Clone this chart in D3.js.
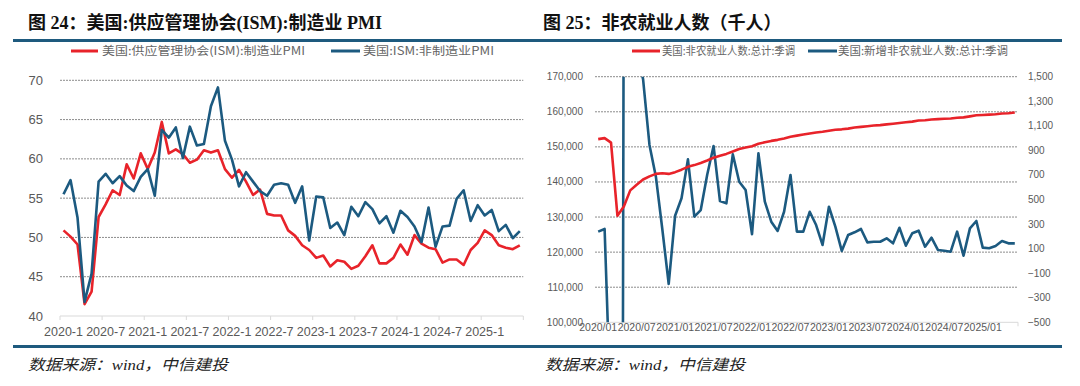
<!DOCTYPE html>
<html>
<head>
<meta charset="utf-8">
<script src="https://cdn.jsdelivr.net/npm/d3@7"></script>
<style>
    body { margin: 0; background: #fff; }
    svg { display: block; }
</style>
</head>
<body>
<div id="chart"></div>
<script>
//set svg dimensions
var svgW = 1080;
var svgH = 386;

//months 2020-01 .. 2025-06
var years = [2020, 2021, 2022, 2023, 2024, 2025];
var months = [];
years.forEach(function(y) {
    for (var m = 1; m <= 12; m++) {
        if (y === 2025 && m > 6) break;
        months.push({ y: y, m: m });
    }
});

//left chart: ISM manufacturing pmi
var ismManu = [
    50.9, 50.1, 49.1, 41.5, 43.1, 52.6, 54.2, 56.0, 55.4, 59.3, 57.5, 60.7,
    58.7, 60.8, 64.7, 60.7, 61.2, 60.6, 59.5, 59.9, 61.1, 60.8, 61.1, 58.7,
    57.6, 58.6, 57.1, 55.4, 56.1, 53.0, 52.8, 52.8, 50.9, 50.2, 49.0, 48.4,
    47.4, 47.7, 46.3, 47.1, 46.9, 46.0, 46.4, 47.6, 49.0, 46.7, 46.7, 47.4,
    49.1, 47.8, 50.3, 49.2, 48.7, 48.5, 46.8, 47.2, 47.2, 46.5, 48.4, 49.3,
    50.9, 50.3, 49.0, 48.7, 48.5, 49.0
];

//left chart: ISM non-manufacturing pmi
var ismNonManu = [
    55.5, 57.3, 52.5, 41.8, 45.4, 57.1, 58.1, 56.9, 57.8, 56.6, 55.9, 57.7,
    58.7, 55.3, 63.7, 62.7, 64.0, 60.1, 64.1, 61.7, 61.9, 66.7, 69.1, 62.3,
    59.9, 56.5, 58.3, 57.1, 55.9, 55.3, 56.7, 56.9, 56.7, 54.4, 56.5, 49.6,
    55.2, 55.1, 51.2, 51.9, 50.3, 53.9, 52.7, 54.5, 53.6, 51.8, 52.7, 50.6,
    53.4, 52.6, 51.4, 49.4, 53.8, 48.8, 51.4, 51.5, 54.9, 56.0, 52.1, 54.1,
    52.8, 53.5, 50.8, 51.6, 49.9, 50.8
];

//right chart: total nonfarm payrolls (thousands, left axis)
var nfpTotal = [
    152200, 152500, 151200, 130400, 133000, 137600, 139200, 140700, 141600, 142300, 142500, 142300,
    142800, 143500, 144300, 144800, 145400, 146100, 146900, 147500, 148000, 148700, 149400, 149800,
    150200, 150900, 151300, 151700, 152000, 152400, 152900, 153200, 153500, 153800, 154100, 154300,
    154600, 154900, 155000, 155200, 155500, 155700, 155900, 156100, 156200, 156400, 156600, 156800,
    157000, 157200, 157500, 157600, 157800, 157900, 158000, 158100, 158300, 158400, 158700, 159000,
    159100, 159200, 159300, 159500, 159600, 159800
];

//right chart: monthly change in nonfarm payrolls (thousands, right axis)
var nfpChange = [
    238, 260, -1300, -20500, 2700, 4500, 1700, 1480, 944, 686, 260, -188,
    368, 510, 827, 360, 414, 700, 936, 487, 469, 868, 645, 577,
    217, 876, 482, 319, 244, 400, 700, 238, 238, 400, 292, 130,
    441, 279, 81, 211, 233, 260, 151, 156, 156, 184, 143, 270,
    124, 225, 246, 116, 189, 89, 83, 75, 238, 42, 265, 325,
    108, 103, 122, 162, 143, 143
];

//tick values
var leftTicks = [40, 45, 50, 55, 60, 65, 70];
var nfpTicksL = [100000, 110000, 120000, 130000, 140000, 150000, 160000, 170000];
var nfpTicksR = [-500, -300, -100, 100, 300, 500, 700, 900, 1100, 1300, 1500];

//text
var title1 = "图 24：美国:供应管理协会(ISM):制造业 PMI";
var title2 = "图 25：非农就业人数（千人）";
var legend1 = ["美国:供应管理协会(ISM):制造业PMI", "美国:ISM:非制造业PMI"];
var legend2 = ["美国:非农就业人数:总计:季调", "美国:新增非农就业人数:总计:季调"];
var source = "数据来源：wind，中信建投";

var red = "#e8232a";
var blue = "#1c5a80";
var ruleColor = "#1e5a7e";
var labelColor = "#595959";
var sans = "Arial, 'Liberation Sans', sans-serif";
var cjk = "'Noto Sans CJK SC', sans-serif";

var svg = d3.select("#chart").append("svg")
    .attr("width", svgW)
    .attr("height", svgH);

var defs = svg.append("defs");

//top and bottom rules
svg.append("rect").attr("x", 13).attr("y", 39).attr("width", 1049).attr("height", 3).attr("fill", ruleColor);
svg.append("rect").attr("x", 13).attr("y", 345).attr("width", 1049).attr("height", 3).attr("fill", ruleColor);

//titles
[[title1, 28], [title2, 543]].forEach(function(t) {
    svg.append("text")
        .attr("x", t[1])
        .attr("y", 29)
        .attr("font-family", "'Liberation Serif', 'Noto Sans CJK SC', serif")
        .attr("font-weight", "bold")
        .attr("font-size", "18px")
        .attr("fill", "#111")
        .text(t[0]);
});

//sources
[28, 545].forEach(function(x) {
    svg.append("text")
        .attr("x", x)
        .attr("y", 370)
        .attr("font-family", "'Liberation Serif', 'Noto Sans CJK SC', serif")
        .attr("font-style", "italic")
        .attr("font-size", "15px")
        .attr("fill", "#222")
        .attr("textLength", 200)
        .attr("lengthAdjust", "spacingAndGlyphs")
        .text(source);
});

//legend helper
function legendItem(x1, x2, tx, tlen, color, label) {
    svg.append("line")
        .attr("x1", x1).attr("x2", x2)
        .attr("y1", 51).attr("y2", 51)
        .attr("stroke", color)
        .attr("stroke-width", 3);
    svg.append("text")
        .attr("x", tx)
        .attr("y", 55)
        .attr("font-family", cjk)
        .attr("font-size", "11.5px")
        .attr("fill", "#666")
        .attr("textLength", tlen)
        .attr("lengthAdjust", "spacingAndGlyphs")
        .text(label);
}

legendItem(71, 98, 102, 203, red, legend1[0]);
legendItem(331, 360, 363, 131, blue, legend1[1]);
legendItem(632, 660, 662, 133, red, legend2[0]);
legendItem(808, 837, 838, 170, blue, legend2[1]);

//category x axis drawing: labels centered on category, ticks on boundaries
function drawCategoryAxis(g, x, labelFn, y0, fontSize, labelY) {
    var bw = x.bandwidth();
    var domain = x.domain();
    g.append("line")
        .attr("x1", x.range()[0]).attr("x2", x.range()[1])
        .attr("y1", y0).attr("y2", y0)
        .attr("stroke", "#d9d9d9");
    var tickIdx = d3.range(0, domain.length + 1, 6);
    g.selectAll(".tickmark")
        .data(tickIdx)
        .enter()
        .append("line")
        .attr("x1", d => x.range()[0] + d * bw)
        .attr("x2", d => x.range()[0] + d * bw)
        .attr("y1", y0).attr("y2", y0 + 4)
        .attr("stroke", "#d9d9d9");
    var labelIdx = d3.range(0, domain.length, 6);
    g.selectAll(".xlabel")
        .data(labelIdx)
        .enter()
        .append("text")
        .attr("x", d => x(domain[d]) + bw / 2)
        .attr("y", labelY)
        .attr("text-anchor", "middle")
        .attr("font-family", sans)
        .attr("font-size", fontSize)
        .attr("fill", labelColor)
        .text(d => labelFn(months[d]));
}

function gridLines(g, values, y, x0, x1) {
    g.selectAll(".grid")
        .data(values)
        .enter()
        .append("line")
        .attr("x1", x0).attr("x2", x1)
        .attr("y1", d => y(d)).attr("y2", d => y(d))
        .attr("stroke", "#8c8c8c")
        .attr("stroke-dasharray", "2,1");
}

// ---------- left chart ----------
var g1 = svg.append("g");
var keys = months.map((d, i) => i);

var x1 = d3.scaleBand().domain(keys).range([60, 523.3]).padding(0);
var y1 = d3.scaleLinear().domain([40, 70]).range([316, 80.3]);

gridLines(g1, leftTicks.slice(1), y1, 60, 523.3);
drawCategoryAxis(g1, x1, d => d.y + "-" + d.m, 316, "12.5px", 336);

g1.selectAll(".ylabel")
    .data(leftTicks)
    .enter()
    .append("text")
    .attr("x", 43)
    .attr("y", d => y1(d) + 4.5)
    .attr("text-anchor", "end")
    .attr("font-family", sans)
    .attr("font-size", "13px")
    .attr("fill", labelColor)
    .text(d => d);

var line1 = d3.line()
    .x((d, i) => x1(i) + x1.bandwidth() / 2)
    .y(d => y1(d));

g1.append("path")
    .datum(ismManu)
    .attr("d", line1)
    .attr("fill", "none")
    .attr("stroke", red)
    .attr("stroke-width", 2.6)
    .attr("stroke-linejoin", "round");

g1.append("path")
    .datum(ismNonManu)
    .attr("d", line1)
    .attr("fill", "none")
    .attr("stroke", blue)
    .attr("stroke-width", 2.6)
    .attr("stroke-linejoin", "round");

// ---------- right chart ----------
var g2 = svg.append("g");

var x2 = d3.scaleBand().domain(keys).range([595, 1018]).padding(0);
var y2L = d3.scaleLinear().domain([100000, 170000]).range([322.3, 76.7]);
var y2R = d3.scaleLinear().domain([-500, 1500]).range([322.3, 76.7]);

gridLines(g2, nfpTicksL.slice(1), y2L, 595, 1018);
drawCategoryAxis(g2, x2, d => d.y + "/" + (d.m < 10 ? "0" + d.m : d.m), 322.3, "10.5px", 331);

g2.selectAll(".ylabelL")
    .data(nfpTicksL)
    .enter()
    .append("text")
    .attr("x", 583)
    .attr("y", d => y2L(d) + 3.5)
    .attr("text-anchor", "end")
    .attr("font-family", sans)
    .attr("font-size", "10px")
    .attr("fill", labelColor)
    .text(d => d3.format(",")(d));

g2.selectAll(".ylabelR")
    .data(nfpTicksR)
    .enter()
    .append("text")
    .attr("x", 1028)
    .attr("y", d => y2R(d) + 3.5)
    .attr("text-anchor", "start")
    .attr("font-family", sans)
    .attr("font-size", "10px")
    .attr("fill", labelColor)
    .text(d => d3.format(",")(d));

//clip lines to plot area
defs.append("clipPath")
    .attr("id", "clip2")
    .append("rect")
    .attr("x", 595).attr("y", 76.7)
    .attr("width", 423).attr("height", 322.3 - 76.7);

var plot2 = g2.append("g").attr("clip-path", "url(#clip2)");

plot2.append("path")
    .datum(nfpChange)
    .attr("d", d3.line()
        .x((d, i) => x2(i) + x2.bandwidth() / 2)
        .y(d => y2R(d)))
    .attr("fill", "none")
    .attr("stroke", blue)
    .attr("stroke-width", 2.6)
    .attr("stroke-linejoin", "round");

plot2.append("path")
    .datum(nfpTotal)
    .attr("d", d3.line()
        .x((d, i) => x2(i) + x2.bandwidth() / 2)
        .y(d => y2L(d)))
    .attr("fill", "none")
    .attr("stroke", red)
    .attr("stroke-width", 2.6)
    .attr("stroke-linejoin", "round");
</script>
</body>
</html>
